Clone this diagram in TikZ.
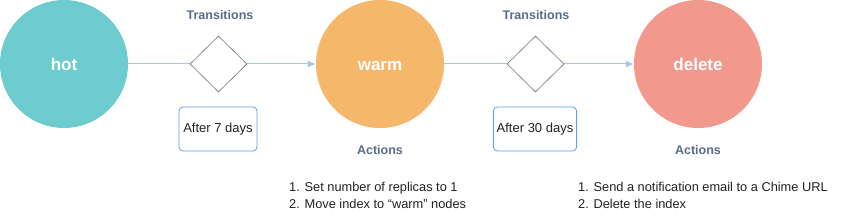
\documentclass[tikz,border=0pt]{standalone}
\usepackage{fontspec}
\setmainfont{Liberation Sans}
\usetikzlibrary{shapes.geometric,arrows.meta}
\definecolor{hotc}{HTML}{6ECBD0}
\definecolor{warmc}{HTML}{F5B86B}
\definecolor{delc}{HTML}{F1998C}
\definecolor{linec}{HTML}{A9C4EB}
\definecolor{labc}{HTML}{5A6B87}
\definecolor{boxc}{HTML}{5E9DF0}
\definecolor{txtc}{HTML}{222222}
\begin{document}
\begin{tikzpicture}[x=1pt,y=-1pt,
  phase/.style={circle,minimum size=128pt,inner sep=0pt,text=white,text height=12.2pt,text depth=0pt,font=\bfseries\fontsize{17}{20}\selectfont},
  gate/.style={diamond,draw=black!55,line width=0.6pt,minimum width=57pt,minimum height=56pt,inner sep=0pt,fill=white},
  cond/.style={draw=boxc,rounded corners=4pt,line width=0.8pt,minimum width=78pt,minimum height=44pt,text=txtc,font=\fontsize{13}{15}\selectfont},
  lab/.style={text=labc,font=\bfseries\fontsize{12.5}{15}\selectfont},
  lst/.style={text=txtc,font=\fontsize{12.8}{17}\selectfont,align=left,anchor=north west,inner sep=0pt},
  conn/.style={draw=linec,line width=1pt},
  arr/.style={conn,-{Latex[length=8pt,width=7pt]}}]
\useasboundingbox (0,0) rectangle (851,221);
\node[phase,fill=hotc] (hot) at (64,64) {hot};
\node[phase,fill=warmc] (warm) at (380,64) {warm};
\node[phase,fill=delc] (del) at (698,64) {delete};
\node[gate] (g1) at (218.5,64) {};
\node[gate] (g2) at (535.5,64) {};
\node[lab] (t1) at (220,15) {Transitions};
\node[lab] (t2) at (536,15) {Transitions};
\node[cond] (c1) at (218,129) {After 7 days};
\node[cond] (c2) at (535,129) {After 30 days};
\node[lab] (a1) at (380,150) {Actions};
\node[lab] (a2) at (698,150) {Actions};
\node[lst] (l1) at (289,182) {1. Set number of replicas to 1\\2. Move index to “warm” nodes};
\node[lst] (l2) at (578,182) {1. Send a notification email to a Chime URL\\2. Delete the index};
\draw[conn] (hot) -- (g1);
\draw[arr] (g1) -- (warm);
\draw[conn] (warm) -- (g2);
\draw[arr] (g2) -- (del);
\end{tikzpicture}
\end{document}
